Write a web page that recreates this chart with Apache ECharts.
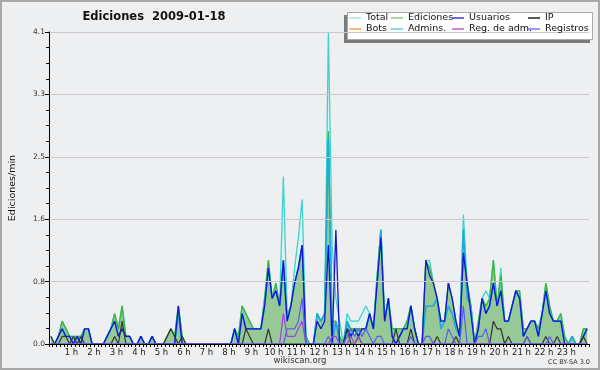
<!DOCTYPE html>
<html><head><meta charset="utf-8">
<script src="https://cdn.jsdelivr.net/npm/echarts/dist/echarts.min.js"></script>
<style>html,body{margin:0;padding:0;background:#eeeff1}#c{width:600px;height:370px}</style>
</head><body><div id="c"></div>
<script>
// 10-minute bins (144 per day), values in edits/min; one row per hour
const hourLabels = ['', '1 h','2 h','3 h','4 h','5 h','6 h','7 h','8 h','9 h','10 h','11 h','12 h','13 h','14 h','15 h','16 h','17 h','18 h','19 h','20 h','21 h','22 h','23 h',''];
const yTickLabels = ['0.0','0.8','1.6','2.5','3.3','4.1'];

const total = [
 0.1,0,0.1,0.3,0.2,0.1,  0.1,0.1,0.1,0.2,0.2,0,  0,0,0,0.1,0.2,0.4,  0.2,0.5,0.1,0.1,0,0,
 0.1,0,0,0.1,0,0,  0,0.1,0.2,0.1,0.5,0.1,  0,0,0,0,0,0,  0,0,0,0,0,0,
 0,0.2,0.1,0.5,0.4,0.3,  0.2,0.2,0.2,0.6,1.1,0.6,  0.8,0.5,2.2,0.4,0.5,1.0,  1.4,1.9,0.1,0,0,0.4,
 0.3,0.4,4.1,1.3,0.6,0.3,  0,0.4,0.3,0.3,0.3,0.4,  0.5,0.4,0.2,0.9,1.5,0.3,  0.6,0.2,0.2,0.2,0.2,0.3,
 0.5,0.2,0,0,1.1,1.1,  0.8,0.6,0.3,0.3,0.8,0.6,  0.3,0.1,1.7,0.8,0.5,0,  0.3,0.6,0.7,0.6,1.1,0.5,
 1.0,0.3,0.3,0.5,0.7,0.7,  0.2,0.2,0.3,0.3,0.2,0.4,  0.8,0.5,0.3,0.3,0.4,0.1,  0,0.1,0,0,0.2,0.2
];
const ediciones = [
 0.1,0,0.1,0.3,0.2,0.1,  0.1,0.1,0.1,0.2,0.2,0,  0,0,0,0.1,0.2,0.4,  0.2,0.5,0.1,0.1,0,0,
 0.1,0,0,0.1,0,0,  0,0.1,0.2,0.1,0.5,0.1,  0,0,0,0,0,0,  0,0,0,0,0,0,
 0,0.2,0.1,0.5,0.4,0.3,  0.2,0.2,0.2,0.6,1.1,0.6,  0.8,0.5,1.0,0.3,0.5,0.8,  1.0,1.3,0.1,0,0,0.4,
 0.3,0.4,2.8,0.3,0.3,0.1,  0,0.3,0.2,0.2,0.2,0.2,  0.2,0.4,0.2,0.9,1.5,0.3,  0.6,0.2,0.2,0.2,0.2,0.3,
 0.5,0.2,0,0,1.1,1.0,  0.8,0.6,0.3,0.3,0.8,0.6,  0.3,0.1,1.2,0.8,0.5,0,  0.3,0.6,0.5,0.6,1.1,0.5,
 0.9,0.3,0.3,0.5,0.7,0.7,  0.2,0.2,0.3,0.3,0.2,0.4,  0.8,0.5,0.3,0.3,0.4,0.1,  0,0.1,0,0,0.2,0.2
];
const usuarios = [
 0,0,0.1,0.2,0.1,0.1,  0,0.1,0,0.2,0.2,0,  0,0,0,0.1,0.2,0.3,  0.1,0.2,0.1,0.1,0,0,
 0.1,0,0,0.1,0,0,  0,0,0,0,0.5,0,  0,0,0,0,0,0,  0,0,0,0,0,0,
 0,0.2,0,0.4,0.2,0.2,  0.2,0.2,0.2,0.5,1.0,0.6,  0.7,0.5,1.1,0.3,0.5,0.8,  1.0,1.3,0,0,0,0.3,
 0.2,0.3,1.3,0,1.5,0,  0,0.2,0.1,0.2,0.1,0.2,  0.2,0.4,0.2,0.8,1.4,0.3,  0.6,0.1,0,0.1,0.2,0.2,
 0.5,0.2,0,0,1.1,0.9,  0.8,0.6,0.3,0.3,0.8,0.6,  0.3,0.1,1.2,0.8,0.4,0,  0.2,0.6,0.4,0.5,0.8,0.5,
 0.7,0.3,0.3,0.5,0.7,0.6,  0.1,0.2,0.3,0.3,0.1,0.4,  0.7,0.4,0.3,0.3,0.3,0,  0,0,0,0,0.1,0.2
];
const ip = [
 0.1,0,0,0.1,0.1,0,  0.1,0,0.1,0,0,0,  0,0,0,0,0,0.1,  0,0.3,0,0,0,0,
 0,0,0,0,0,0,  0,0.1,0.2,0.1,0,0.1,  0,0,0,0,0,0,  0,0,0,0,0,0,
 0,0,0,0,0.2,0.1,  0,0,0,0,0.2,0,  0,0,0,0,0,0,  0,0,0,0,0,0,
 0,0,0,0,0,0,  0,0.2,0,0,0.1,0,  0,0,0,0,0,0,  0,0,0.2,0,0,0,
 0.2,0,0,0,0,0,  0,0.1,0,0,0,0,  0.1,0,0,0,0,0,  0,0,0,0,0.3,0.2,
 0.2,0,0.1,0,0,0,  0,0.1,0,0,0,0,  0.1,0,0,0.1,0,0,  0,0,0,0,0.1,0
];
const bots = [];
const admins = [
 0,0,0.1,0.2,0.1,0.1,  0,0.1,0,0.2,0.2,0,  0,0,0,0.1,0.2,0.3,  0.1,0.2,0.1,0.1,0,0,
 0.1,0,0,0.1,0,0,  0,0,0,0,0.4,0,  0,0,0,0,0,0,  0,0,0,0,0,0,
 0,0.2,0,0.4,0.2,0.2,  0.2,0.2,0.2,0.5,1.0,0.6,  0.7,0.5,1.1,0.3,0.5,0.8,  1.0,1.3,0,0,0,0.4,
 0.3,0.4,2.7,0,0.3,0,  0,0.3,0.1,0.2,0.1,0.2,  0.2,0.4,0.2,0.8,1.5,0.3,  0.6,0.1,0,0.1,0.2,0.2,
 0.5,0.2,0,0,0.5,0.5,  0.5,0.6,0.2,0.3,0.5,0.4,  0.2,0.1,1.5,0.6,0.5,0,  0.2,0.6,0.4,0.5,0.8,0.5,
 0.7,0.3,0.3,0.5,0.7,0.6,  0.1,0.2,0.3,0.3,0.1,0.4,  0.7,0.4,0.3,0.3,0.3,0,  0,0.1,0,0,0.1,0.2
];
const regAdm = [
 0,0,0,0,0,0,  0,0,0,0,0,0,  0,0,0,0,0,0,  0,0,0,0,0,0,
 0,0,0,0,0,0,  0,0,0,0,0,0,  0,0,0,0,0,0,  0,0,0,0,0,0,
 0,0,0,0,0,0,  0,0,0,0,0,0,  0,0,0.4,0.1,0.1,0.1,  0.2,0.3,0,0,0,0,
 0,0,0,0.1,0.1,0,  0,0,0.1,0,0.1,0,  0,0,0,0,0,0,  0,0,0,0,0,0,
 0,0,0,0,0,0,  0,0,0,0,0,0,  0,0,0,0,0,0,  0,0,0,0,0,0,
 0,0,0,0,0,0,  0,0,0,0,0,0,  0,0,0,0,0,0,  0,0,0,0,0,0
];
const registros = [
 0,0,0,0,0,0,  0,0,0,0,0,0,  0,0,0,0,0,0,  0,0,0,0,0,0,
 0,0,0,0,0,0,  0,0,0,0,0,0,  0,0,0,0,0,0,  0,0,0,0,0,0,
 0,0,0,0,0,0,  0,0,0,0,0,0,  0,0,0,0.2,0.2,0.2,  0.3,0.6,0,0,0,0,
 0,0,0.1,0,0,0,  0,0.1,0.2,0.1,0.2,0.1,  0.2,0.1,0,0.1,0.1,0,  0,0,0,0,0,0,
 0.1,0,0,0,0.1,0.1,  0,0,0,0,0.2,0.1,  0,0,0.5,0,0,0,  0.1,0.1,0.2,0,0,0,
 0,0,0,0,0,0,  0,0.1,0,0,0,0,  0,0.1,0,0,0,0,  0,0,0,0,0,0
];

const BIN_MIN = 10;
function pts(arr){ return arr.map((v,i)=>[(i*BIN_MIN + BIN_MIN/2)/60, v]); }

const FONT = 'DejaVu Sans';
function lineSeries(name, data, color, width){
  return {name, type:'line', data: pts(data), symbol:'none', silent:true, animation:false,
    lineStyle:{color, width}, itemStyle:{color}};
}
const series = [
  Object.assign(lineSeries('Total', total, '#3fd2cc', 1.3), {areaStyle:{color:'rgba(214,244,240,0.9)'}}),
  Object.assign(lineSeries('Ediciones', ediciones, '#3fb53f', 1.4), {areaStyle:{color:'#97c997', opacity:1}}),
  lineSeries('Bots', bots, '#f0a040', 1.2),
  lineSeries('Admins.', admins, '#1eaadc', 1.6),
  lineSeries('Usuarios', usuarios, '#1414d4', 1.3),
  lineSeries('IP', ip, '#333333', 1.2),
  lineSeries('Reg. de adm.', regAdm, '#a63ee6', 1.2),
  lineSeries('Registros', registros, '#5c5cf2', 1.2)
];

function legendCol(left, items){
  return {show:true, orient:'vertical', left, top:12.5, padding:0, itemWidth:12, itemHeight:1.5, itemGap:0,
    icon:'rect', selectedMode:false, z:10,
    textStyle:{fontFamily:FONT, fontSize:9.5, color:'#111', lineHeight:11},
    data: items};
}

const chart = echarts.init(document.getElementById('c'), null, {renderer:'canvas'});
chart.setOption({
  backgroundColor:'#eeeff1',
  animation:false,
  grid:{left:46, top:32, width:543, height:312, containLabel:false},
  xAxis:{type:'value', min:0, max:24, interval:1, z:5,
    axisLine:{show:true, onZero:false, lineStyle:{color:'#000', width:1}},
    axisTick:{show:true, length:3, lineStyle:{color:'#000'}},
    minorTick:{show:true, splitNumber:6, length:3, lineStyle:{color:'#000'}},
    splitLine:{show:false},
    axisLabel:{formatter:v=>hourLabels[v] || '', fontFamily:FONT, fontSize:8.5, color:'#222', margin:4}
  },
  yAxis:{type:'value', min:0, max:4.1, interval:0.82, z:5,
    name:'Ediciones/min', nameLocation:'middle', nameGap:31, nameRotate:90,
    nameTextStyle:{fontFamily:FONT, fontSize:9.5, color:'#111'},
    axisLine:{show:true, lineStyle:{color:'#000', width:1}},
    axisTick:{show:true, length:4, lineStyle:{color:'#000'}},
    minorTick:{show:true, splitNumber:4, length:3, lineStyle:{color:'#000'}},
    splitLine:{show:true, lineStyle:{color:'#c9c9cb', width:1}},
    axisLabel:{formatter:(v)=>yTickLabels[Math.round(v/0.82)], fontFamily:FONT, fontSize:7.5, color:'#333', margin:4}
  },
  legend:[
    legendCol(349, [{name:'Total', itemStyle:{color:'#a4e6e0'}}, {name:'Bots', itemStyle:{color:'#f4a444'}}]),
    legendCol(391, [{name:'Ediciones', itemStyle:{color:'#86cc86'}}, {name:'Admins.', itemStyle:{color:'#5ccce0'}}]),
    legendCol(452, [{name:'Usuarios', itemStyle:{color:'#3c3cdc'}}, {name:'Reg. de adm.', itemStyle:{color:'#cc55e6'}}]),
    legendCol(528, [{name:'IP', itemStyle:{color:'#222'}}, {name:'Registros', itemStyle:{color:'#7a7af2'}}])
  ],
  graphic:[
    {type:'rect', z:-1, silent:true, shape:{x:1, y:1, width:598, height:368}, style:{fill:'none', stroke:'#a8a8a8', lineWidth:2}},
    {type:'rect', z:1, silent:true, shape:{x:344, y:15, width:246, height:28}, style:{fill:'#7a7a7a'}},
    {type:'rect', z:2, silent:true, shape:{x:347.5, y:12.5, width:245, height:27}, style:{fill:'#ffffff', stroke:'#aaaaaa', lineWidth:1}},
    {type:'text', z:3, silent:true, x:154, y:17, style:{text:'Ediciones  2009-01-18', font:'bold 11.5px "DejaVu Sans"', fill:'#111', align:'center', verticalAlign:'middle'}},
    {type:'text', z:3, silent:true, x:300, y:361, style:{text:'wikiscan.org', font:'8.5px "DejaVu Sans"', fill:'#333', align:'center', verticalAlign:'middle'}},
    {type:'text', z:3, silent:true, x:590, y:362, style:{text:'CC BY-SA 3.0', font:'6.5px "DejaVu Sans"', fill:'#333', align:'right', verticalAlign:'middle'}}
  ],
  series
});
</script>
</body></html>
